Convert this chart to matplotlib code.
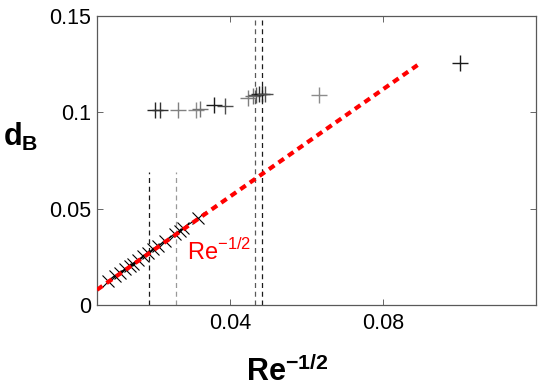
import numpy as np
import matplotlib.pyplot as plt

plt.rcParams['font.family'] = ['Liberation Sans', 'DejaVu Sans']
plt.rcParams['mathtext.fontset'] = 'custom'
plt.rcParams['mathtext.rm'] = 'Liberation Sans'
plt.rcParams['mathtext.bf'] = 'Liberation Sans:bold'

# ── data ──────────────────────────────────────────────────────────────────────

# lower branch (x markers along a thin line)
low_x = [0.0081, 0.0099, 0.0112, 0.0125, 0.0139, 0.0146, 0.0159, 0.0173,
         0.0186, 0.0199, 0.0212, 0.0230, 0.0256, 0.0269, 0.0277, 0.0316]
low_y = [0.0125, 0.0150, 0.0168, 0.0185, 0.0205, 0.0215, 0.0233, 0.0252,
         0.0270, 0.0290, 0.0306, 0.0332, 0.0368, 0.0385, 0.0398, 0.0450]

# upper branch (+ markers, various grey levels)
up_x = [0.0203, 0.0218, 0.0265, 0.0311, 0.0322, 0.0358, 0.0386,
        0.0447, 0.0460, 0.0468, 0.0475, 0.0483, 0.0490, 0.0633, 0.0999]
up_y = [0.1010, 0.1012, 0.1010, 0.1012, 0.1015, 0.1038, 0.1033,
        0.1073, 0.1085, 0.1090, 0.1095, 0.1097, 0.1097, 0.1090, 0.1258]
up_c = ['0.15', '0.2', '0.5', '0.55', '0.45', '0.1', '0.3',
        '0.5', '0.45', '0.35', '0.2', '0.1', '0.3', '0.55', '0.1']

# fit  d_B ~ 1.4 Re^-1/2
fit_x = [0.0053, 0.0889]
fit_slope = 1.395
fit_icpt = 0.0005

# vertical dashed markers: x, ymin (data), colour
vlines_x = [0.0189, 0.0259, 0.0464, 0.0484]
vlines_top = [0.069, 0.069, 0.15, 0.15]
vlines_c = ['0.1', '0.6', '0.35', '0.1']

# ── plot ──────────────────────────────────────────────────────────────────────

fig = plt.figure(figsize=(5.4, 3.89), dpi=100)
ax = fig.add_axes([97 / 540, 1 - 305 / 389, 439 / 540, 289 / 389])

for xv, yt, c in zip(vlines_x, vlines_top, vlines_c):
    ax.plot([xv, xv], [0, yt], color=c, lw=0.9, ls=(0, (4, 3)))

fx = np.array(fit_x)
ax.plot(fx, fit_slope * fx + fit_icpt, color='red', lw=3,
        ls=(0, (1.6, 1.2)), zorder=3)

ax.plot(low_x, low_y, color='black', lw=0.8, zorder=2)
ax.plot(low_x, low_y, 'x', color='black', ms=9, mew=0.8, zorder=2)

for xv, yv, c in zip(up_x, up_y, up_c):
    ax.plot(xv, yv, '+', color=c, ms=12, mew=1.0)

ax.text(0.0288, 0.0234, r'Re$^{-1/2}$', color='red', fontsize=17)

ax.set_xlim(0.0053, 0.1198)
ax.set_ylim(0, 0.15)
ax.set_xticks([0.04, 0.08])
ax.set_xticklabels(['0.04', '0.08'])
ax.set_yticks([0, 0.05, 0.1, 0.15])
ax.set_yticklabels(['0', '0.05', '0.1', '0.15'])
ax.tick_params(direction='in', length=4, width=0.6, labelsize=15.5,
               top=True, right=True, colors='0.3', labelcolor='black')
ax.tick_params(axis='y', pad=4)
ax.tick_params(axis='x', pad=6)
for s in ax.spines.values():
    s.set_color('0.35')
    s.set_linewidth(0.9)

ax.set_xlabel(r'$\mathbf{Re}^{\mathbf{-1/2}}$', fontsize=22)
ax.xaxis.set_label_coords((287 - 97) / 439, -0.175)
fig.text(3 / 540, 1 - 146 / 389, r'$\mathbf{d}_{\mathbf{B}}$', fontsize=22,
         va='baseline', ha='left')

fig.savefig('out.png', dpi=100)
